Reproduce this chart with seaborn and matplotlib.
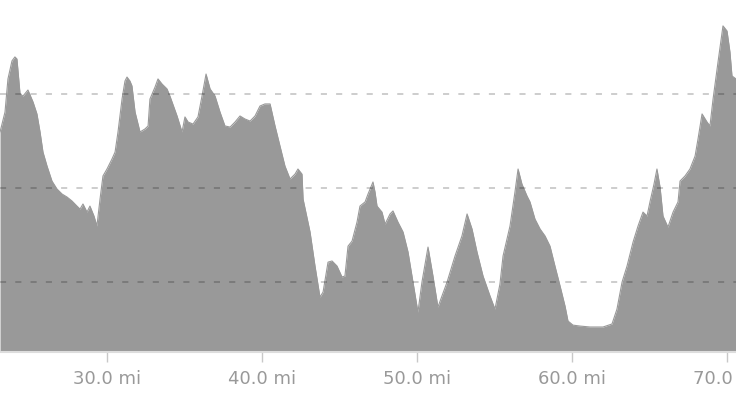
import numpy as np
import pandas as pd
import matplotlib
matplotlib.use("Agg")
import matplotlib.pyplot as plt
import seaborn as sns

# Elevation profile (distance in miles, elevation in ft)
miles = [23.10, 23.42, 23.61, 23.87, 24.06, 24.19, 24.39, 24.58, 24.90, 25.23,
         25.48, 25.68, 25.87, 26.13, 26.45, 26.77, 27.10, 27.42, 27.74, 28.06,
         28.26, 28.45, 28.71, 28.90, 29.16, 29.35, 29.55, 29.74, 30.00, 30.32,
         30.52, 30.71, 30.97, 31.16, 31.29, 31.48, 31.61, 31.81, 32.13, 32.45,
         32.65, 32.77, 33.10, 33.29, 33.55, 33.87, 34.06, 34.52, 34.84, 35.03,
         35.23, 35.55, 35.87, 36.13, 36.39, 36.65, 36.97, 37.29, 37.61, 37.94,
         38.26, 38.58, 38.90, 39.23, 39.55, 39.87, 40.19, 40.52, 40.84, 41.16,
         41.48, 41.81, 42.13, 42.32, 42.58, 42.65, 43.10, 43.42, 43.74, 43.94,
         44.26, 44.52, 44.84, 45.16, 45.35, 45.55, 45.81, 46.13, 46.32, 46.65,
         46.84, 47.16, 47.29, 47.42, 47.74, 47.94, 48.26, 48.45, 48.77, 49.10,
         49.42, 49.74, 50.06, 50.32, 50.71, 51.03, 51.35, 51.94, 52.45, 52.90,
         53.23, 53.55, 53.87, 54.26, 54.71, 55.03, 55.35, 55.55, 56.00, 56.32,
         56.52, 56.77, 57.10, 57.29, 57.61, 57.94, 58.26, 58.58, 58.90, 59.23,
         59.55, 59.74, 60.06, 60.52, 61.16, 62.00, 62.58, 62.90, 63.23, 63.55,
         63.94, 64.26, 64.58, 64.84, 65.03, 65.29, 65.48, 65.68, 65.87, 66.19,
         66.52, 66.84, 66.97, 67.29, 67.61, 67.94, 68.13, 68.39, 68.71, 68.90,
         69.10, 69.42, 69.74, 70.00, 70.19, 70.32, 70.58]
elevation = [1798, 1904, 2080, 2176, 2197, 2186, 2000, 1989, 2021, 1957,
             1894, 1798, 1691, 1617, 1537, 1495, 1468, 1452, 1431, 1404,
             1388, 1415, 1372, 1404, 1351, 1298, 1441, 1564, 1601, 1654,
             1691, 1798, 1973, 2069, 2090, 2069, 2043, 1904, 1798, 1814,
             1830, 1973, 2037, 2080, 2053, 2027, 1989, 1883, 1798, 1878,
             1851, 1840, 1878, 1989, 2106, 2027, 1989, 1904, 1830, 1824,
             1851, 1883, 1867, 1856, 1883, 1936, 1947, 1947, 1830, 1723,
             1617, 1548, 1574, 1601, 1574, 1441, 1266, 1085, 920, 947,
             1106, 1112, 1085, 1027, 1032, 1191, 1218, 1319, 1404, 1426,
             1468, 1532, 1479, 1404, 1372, 1308, 1362, 1378, 1319, 1266,
             1160, 1000, 840, 1000, 1186, 1032, 867, 1000, 1138, 1245,
             1362, 1282, 1160, 1032, 926, 856, 989, 1138, 1298, 1479,
             1601, 1521, 1457, 1426, 1335, 1282, 1245, 1191, 1085, 979,
             872, 793, 771, 766, 761, 761, 777, 856, 1000, 1085,
             1213, 1298, 1372, 1351, 1426, 1521, 1601, 1505, 1351, 1292,
             1372, 1426, 1537, 1564, 1601, 1670, 1761, 1894, 1851, 1830,
             1973, 2170, 2362, 2335, 2223, 2096, 2080]

tick_miles = [30, 40, 50, 60, 70]
tick_labels = [f"{m:.1f} mi" for m in tick_miles]
grid_levels = [1000, 1500, 2000]

df = pd.DataFrame({"miles": miles, "elevation": elevation})

sns.set_style("white")
plt.rcParams["font.family"] = ["DejaVu Sans"]

fig = plt.figure(figsize=(7.36, 4.14), dpi=100)
ax = fig.add_axes([0, 0.1473, 1, 0.8527])

FILL = "#999999"
ax.fill_between(df["miles"], 628, df["elevation"], color=FILL, linewidth=0)
sns.lineplot(data=df, x="miles", y="elevation", ax=ax, color=FILL, linewidth=0.8)

ax.set_xlim(23.097, 70.58)
ax.set_ylim(628, 2505)

# dashed gridlines drawn on top of the area
for g in grid_levels:
    ax.axhline(g, color=(0, 0, 0, 0.25), linewidth=1.1, linestyle=(0, (4, 6)), zorder=5)

ax.set_xticks(tick_miles)
ax.set_xticklabels(tick_labels)
ax.set_yticks([])
ax.set_xlabel("")
ax.set_ylabel("")
ax.tick_params(axis="x", direction="out", length=7, width=1, color="#c8c8c8",
               pad=5, labelsize=13, labelcolor="#999999", bottom=True)

for side in ["left", "top", "right"]:
    ax.spines[side].set_visible(False)
ax.spines["bottom"].set_color("#dddddd")
ax.spines["bottom"].set_linewidth(1.5)

fig.savefig("out.png", dpi=100)
plt.close()
